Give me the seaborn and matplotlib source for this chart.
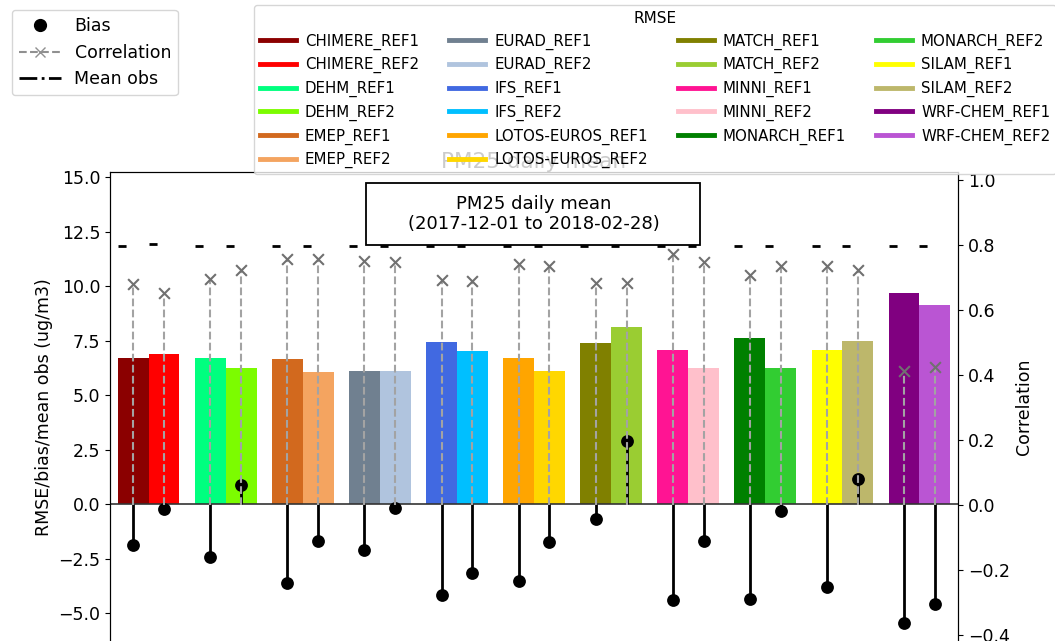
import numpy as np
import pandas as pd
import matplotlib.pyplot as plt
from matplotlib.lines import Line2D
from matplotlib.patches import Rectangle
import seaborn as sns

# data
models = ["CHIMERE", "DEHM", "EMEP", "EURAD", "IFS", "LOTOS-EUROS",
          "MATCH", "MINNI", "MONARCH", "SILAM", "WRF-CHEM"]
runs = ["REF1", "REF2"]

rmse_ref1 = [6.73, 6.72, 6.67, 6.12, 7.45, 6.72, 7.39, 7.09, 7.64, 7.09, 9.69]
rmse_ref2 = [6.92, 6.25, 6.06, 6.12, 7.03, 6.12, 8.13, 6.25, 6.25, 7.51, 9.15]

bias_ref1 = [-1.86, -2.39, -3.62, -2.09, -4.15, -3.49, -0.65, -4.40, -4.33, -3.78, -5.44]
bias_ref2 = [-0.22, 0.89, -1.66, -0.15, -3.13, -1.74, 2.93, -1.66, -0.30, 1.17, -4.58]

corr_ref1 = [0.679, 0.697, 0.758, 0.751, 0.694, 0.742, 0.682, 0.772, 0.707, 0.735, 0.414]
corr_ref2 = [0.653, 0.723, 0.756, 0.747, 0.691, 0.735, 0.682, 0.747, 0.735, 0.723, 0.426]

meanobs_ref1 = [11.84] * 11
meanobs_ref2 = [11.95, 11.84, 11.84, 11.84, 11.84, 11.84, 11.84, 11.84, 11.84, 11.84, 11.84]

colors_ref1 = ["darkred", "springgreen", "chocolate", "slategray", "royalblue", "orange",
               "olive", "deeppink", "green", "yellow", "purple"]
colors_ref2 = ["red", "lawngreen", "sandybrown", "lightsteelblue", "deepskyblue", "gold",
               "yellowgreen", "pink", "limegreen", "darkkhaki", "mediumorchid"]

df = pd.DataFrame({
    "model": models * 2,
    "run": ["REF1"] * 11 + ["REF2"] * 11,
    "rmse": rmse_ref1 + rmse_ref2,
    "bias": bias_ref1 + bias_ref2,
    "corr": corr_ref1 + corr_ref2,
    "meanobs": meanobs_ref1 + meanobs_ref2,
    "color": colors_ref1 + colors_ref2,
})

fig = plt.figure(figsize=(10.55, 6.41), dpi=100)
ax = fig.add_axes([0.1043, -0.0016, 0.8038, 0.7332])

sns.barplot(data=df, x="model", y="rmse", hue="run", order=models, hue_order=runs,
            width=0.8, dodge=True, saturation=1, linewidth=0, legend=False, ax=ax)

# recolor each bar and collect bar geometry
centers, lefts, rights = {}, {}, {}
for run, cont in zip(runs, ax.containers):
    sub = df[df["run"] == run].set_index("model")
    for m, bar in zip(models, cont):
        bar.set_facecolor(sub.loc[m, "color"])
        bar.set_edgecolor("none")
        centers[(m, run)] = bar.get_x() + bar.get_width() / 2
        lefts[(m, run)] = bar.get_x()
        rights[(m, run)] = bar.get_x() + bar.get_width()

df["xc"] = [centers[(m, r)] for m, r in zip(df["model"], df["run"])]
df["xl"] = [lefts[(m, r)] for m, r in zip(df["model"], df["run"])]
df["xr"] = [rights[(m, r)] for m, r in zip(df["model"], df["run"])]

# mean obs dashes
ax.hlines(df["meanobs"], df["xl"], df["xr"], colors="k", lw=2,
          linestyles=[(0, (2.9, 30))], zorder=2)

# bias stems
ax.axhline(0, color="#333333", lw=1.2, zorder=2)
ax.vlines(df["xc"], 0, df["bias"], colors="k", lw=2, zorder=3)
sns.scatterplot(data=df, x="xc", y="bias", color="k", s=85, marker="o",
                edgecolor="k", linewidth=0, zorder=4, legend=False, ax=ax)

ax.set_ylim(-6.31, 15.25)
ax.set_yticks(np.arange(-5, 15.1, 2.5))
ax.set_xlim(-0.5, 10.5)
ax.set_xlabel("")
ax.set_xticks([])
ax.set_ylabel("RMSE/bias/mean obs (ug/m3)", fontsize=12.5)
ax.tick_params(axis="y", labelsize=12.5)
ax.set_title("PM25 daily mean", fontsize=15.5, pad=0)

# correlation on twin axis
ax2 = ax.twinx()
ax2.vlines(df["xc"], 0, df["corr"], colors="#a3a3a3", lw=1.5, linestyles="--", zorder=3)
sns.scatterplot(data=df, x="xc", y="corr", color="#707070", s=60, marker="x",
                linewidth=1.5, zorder=4, legend=False, ax=ax2)
ax2.set_ylim(-0.4215, 1.025)
ax2.set_yticks(np.arange(-0.4, 1.01, 0.2))
ax2.set_ylabel("Correlation", fontsize=12.5)
ax2.set_xlabel("")
ax2.set_xticks([])
ax2.tick_params(axis="y", labelsize=12.5)
ax2.set_xlim(-0.5, 10.5)

# title box
ax2.add_patch(Rectangle((0.3019, 0.8447), 0.3939, 0.1319, transform=ax2.transAxes,
                        facecolor="white", edgecolor="black", lw=1.3, zorder=9))
ax2.text(0.5, 0.9106, "PM25 daily mean\n(2017-12-01 to 2018-02-28)", transform=ax2.transAxes,
         ha="center", va="center", fontsize=13, zorder=10)

# legends
h1 = [Line2D([], [], color="k", marker="o", ls="none", markersize=8.5),
      Line2D([], [], color="#909090", marker="x", ls="--", lw=1.5, markersize=7),
      Line2D([], [], color="k", ls="-.", lw=2)]
fig.legend(h1, ["Bias", "Correlation", "Mean obs"], loc="upper left",
           bbox_to_anchor=(12 / 1055, 1 - 10 / 641), borderaxespad=0, fontsize=12.5,
           handlelength=2.4)

h2, l2 = [], []
for m, c1, c2 in zip(models, colors_ref1, colors_ref2):
    h2 += [Line2D([], [], color=c1, lw=3.5), Line2D([], [], color=c2, lw=3.5)]
    l2 += [m + "_REF1", m + "_REF2"]
fig.legend(h2, l2, ncol=4, loc="upper left", bbox_to_anchor=(254 / 1055, 1 - 5 / 641),
           borderaxespad=0, fontsize=10.8, title="RMSE", title_fontsize=11,
           handlelength=2.4, handletextpad=0.6)

fig.savefig("out.png", dpi=100)
